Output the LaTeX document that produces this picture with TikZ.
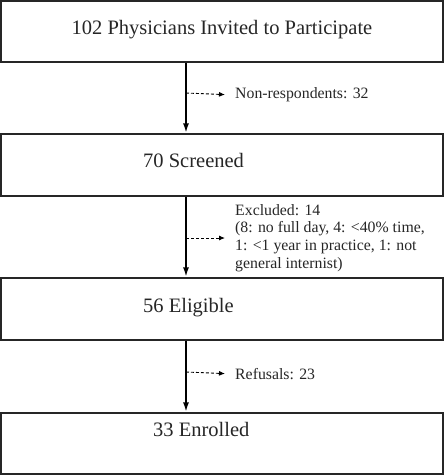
\documentclass[tikz,border=0pt]{standalone}
\usepackage{fontspec}
\setmainfont{Liberation Serif}
\usetikzlibrary{
	positioning
	,arrows.meta
}
\newcommand{\flow}[3][]{
	\draw[#1] (#2.south -| spine) -- (#3.north -| spine);
}
\newcommand{\aside}[3][]{
	\draw[#1] (#2) -- (#3.west);
}
\tikzset{box/.style={
	draw,
	rectangle,
	line width=1.3pt,
	minimum width=442pt,
	minimum height=62pt,
	inner sep=0pt,
}}
\tikzset{
	boxtext/.style={
		inner sep=0pt
		,font=\fontsize{20.5}{24}\selectfont
	},
	note/.style={
		inner sep=0pt
		,anchor=west
		,align=left
		,font=\fontsize{15.8}{17.8}\selectfont
	},
	main/.style={
		line width=2.7pt
		,black
		,-{Latex[length=10pt,width=6pt]}
	},
	side/.style={
		line width=0.9pt
		,black
		,dash pattern=on 3pt off 2pt
		,-{Latex[length=6pt,width=5pt]}
		,shorten >=10pt
	}
}
\tikzset{
	every picture/.append style={black!85}
}
\begin{document}
\begin{tikzpicture}[x=1pt,y=-1pt]
        \useasboundingbox (0,0) rectangle (444,475);
        \coordinate (spine) at (186,0);

        \begin{scope}[every node/.append style={box}]
            \node[minimum height=61pt](b1) at(222,31.5){};
            \node[](b2) at(222,165){};
            \node[](b3) at(222,309){};
            \node[minimum height=61pt](b4) at(222,443.5){};
        \end{scope}

        \node[boxtext, anchor=base](t1) at(222,34){102 Physicians Invited to Participate};
        \node[boxtext, anchor=base west](t2) at(143,167){70 Screened};
        \node[boxtext, anchor=base west](t3) at(143,312){56 Eligible};
        \node[boxtext, anchor=base west](t4) at(153,436){33 Enrolled};

        \coordinate (s1) at(186,93);
        \coordinate (s2) at(186,238);
        \coordinate (s3) at(186,372);

        \node[note](n1) at(235,95){Non-respondents: 32};
        \node[note](n2) at(235,238){Excluded: 14\\(8: no full day, 4: <40\% time,\\1: <1 year in practice, 1: not\\general internist)};
        \node[note](n3) at(235,374){Refusals: 23};

        \foreach \a \b in{
            1/2,2/3,3/4%
        }{
            \flow[main]{b\a}{b\b};
            \aside[side]{s\a}{n\a};
        }

        \end{tikzpicture}
\end{document}
